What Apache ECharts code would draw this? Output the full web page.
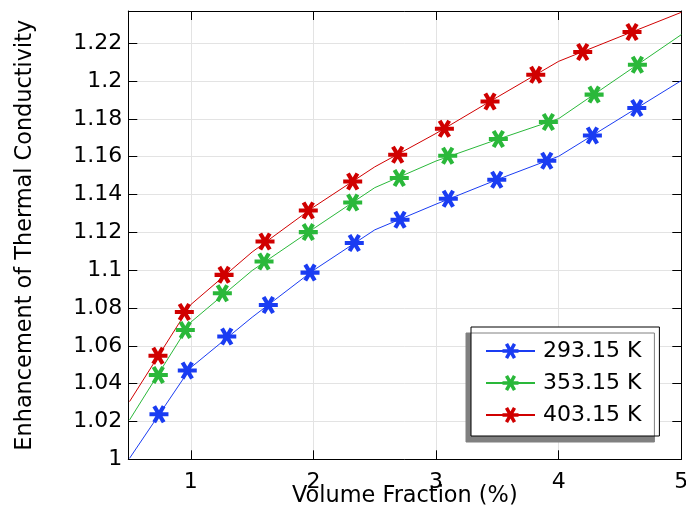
<!DOCTYPE html>
<html><head><meta charset="utf-8">
<script src="https://cdn.jsdelivr.net/npm/echarts@6/dist/echarts.min.js"></script>
<style>html,body{margin:0;padding:0;background:#fff}#c{width:686px;height:512px}</style>
</head><body><div id="c"></div>
<script>
// ---- data ----
const seriesNames = ['293.15 K', '353.15 K', '403.15 K'];
const seriesColors = ['#1a3cf2', '#2ab83a', '#d00000'];

// line vertices (volume fraction %)
const lineX = [0.5, 1, 1.5, 2, 2.5, 3, 3.5, 4, 4.5, 5];
const lineBlue  = [1.0005, 1.0485, 1.0751, 1.0999, 1.1213, 1.1349, 1.1479, 1.1602, 1.1802, 1.2002];
const lineGreen = [1.0208, 1.0725, 1.0998, 1.1219, 1.1436, 1.1577, 1.1691, 1.1801, 1.2023, 1.2245];
const lineRed   = [1.0305, 1.0818, 1.1096, 1.1333, 1.1546, 1.1723, 1.1915, 1.2104, 1.2234, 1.2363];

// marker positions
const markBlueX  = [0.740, 0.971, 1.293, 1.632, 1.972, 2.333, 2.706, 3.100, 3.495, 3.903, 4.275, 4.637];
const markBlueY  = [1.0238, 1.0469, 1.0649, 1.0816, 1.0987, 1.1143, 1.1266, 1.1377, 1.1478, 1.1578, 1.1712, 1.1857];
const markGreenX = [0.735, 0.955, 1.257, 1.597, 1.958, 2.320, 2.700, 3.095, 3.508, 3.916, 4.289, 4.642];
const markGreenY = [1.0446, 1.0684, 1.0878, 1.1046, 1.1201, 1.1358, 1.1487, 1.1605, 1.1693, 1.1783, 1.1928, 1.2086];
const markRedX   = [0.732, 0.947, 1.271, 1.605, 1.958, 2.320, 2.687, 3.068, 3.440, 3.813, 4.196, 4.598];
const markRedY   = [1.0547, 1.0779, 1.0975, 1.1151, 1.1315, 1.1469, 1.1610, 1.1748, 1.1892, 1.2033, 1.2153, 1.2259];

const xMin = 0.49, xMax = 5;
const yMin = 1, yMax = 1.237, yStep = 0.02;

// ---- chart ----
const STAR = 'path://M0 39L100 39L100 61L0 61Z M15.5 12.2L34.5 1.2L84.5 87.8L65.5 98.8Z M65.5 1.2L84.5 12.2L34.5 98.8L15.5 87.8Z';
const FONT = 'DejaVu Sans';
const lines = [lineBlue, lineGreen, lineRed];
const marksX = [markBlueX, markGreenX, markRedX];
const marksY = [markBlueY, markGreenY, markRedY];

const series = [];
seriesNames.forEach((n, k) => {
  series.push({
    type: 'line', name: n, xAxisIndex: 0, yAxisIndex: 0,
    data: lineX.map((x, i) => [x, lines[k][i]]),
    symbol: STAR, symbolSize: 15, showSymbol: false,
    lineStyle: { width: 1, color: seriesColors[k] },
    itemStyle: { color: seriesColors[k], opacity: 1 },
    z: 2, silent: true
  });
});
seriesNames.forEach((n, k) => {
  series.push({
    type: 'scatter', name: n, xAxisIndex: 0, yAxisIndex: 0,
    data: marksX[k].map((x, i) => [x, marksY[k][i]]),
    symbol: STAR, symbolSize: [19, 18],
    itemStyle: { color: seriesColors[k], opacity: 1 },
    z: 3, silent: true
  });
});

const axisLine = { show: true, lineStyle: { color: '#000', width: 1 } };
const tickIn = { show: true, inside: true, length: 9, lineStyle: { color: '#000', width: 1 } };
const split = { show: true, lineStyle: { color: '#e3e3e3', width: 1 } };

const option = {
  animation: false,
  backgroundColor: '#fff',
  grid: { left: 128.3, right: 4.7, top: 11, bottom: 52.7, containLabel: false, outerBoundsMode: 'none' },
  xAxis: [
    { type: 'value', min: xMin, max: xMax, position: 'bottom',
      axisLine, axisTick: tickIn, splitLine: split,
      axisLabel: { showMinLabel: false, fontSize: 22, fontFamily: FONT, color: '#000', margin: 12 },
      name: 'Volume Fraction (%)', nameLocation: 'middle', nameGap: 26, nameMoveOverlap: false,
      nameTextStyle: { fontSize: 22.4, fontFamily: FONT, color: '#000' } },
    { type: 'value', min: xMin, max: xMax, position: 'top',
      axisLine, axisTick: tickIn, splitLine: { show: false }, axisLabel: { show: false } }
  ],
  yAxis: [
    { type: 'value', min: yMin, max: yMax, interval: yStep, position: 'left',
      axisLine, axisTick: tickIn, splitLine: split,
      axisLabel: { showMaxLabel: false, fontSize: 22, fontFamily: FONT, color: '#000', margin: 6 },
      name: 'Enhancement of Thermal Conductivity', nameLocation: 'middle', nameGap: 92, nameMoveOverlap: false,
      nameTextStyle: { fontSize: 22.4, fontFamily: FONT, color: '#000' } },
    { type: 'value', min: yMin, max: yMax, interval: yStep, position: 'right',
      axisLine, axisTick: tickIn, splitLine: { show: false }, axisLabel: { show: false } }
  ],
  legend: {
    data: seriesNames, orient: 'vertical', left: 471, top: 327,
    padding: [13, 18, 10, 14], itemWidth: 49, itemHeight: 20, itemGap: 10,
    backgroundColor: '#fff', borderColor: '#000', borderWidth: 1, borderRadius: 0,
    shadowColor: '#808080', shadowBlur: 0, shadowOffsetX: -5, shadowOffsetY: 6,
    textStyle: { fontSize: 22, fontFamily: FONT, color: '#000', padding: [0, 0, 0, 3] },
    selectedMode: false
  },
  series
};
const chart = echarts.init(document.getElementById('c'), null, { renderer: 'canvas' });
chart.setOption(option);
</script>
</body></html>
